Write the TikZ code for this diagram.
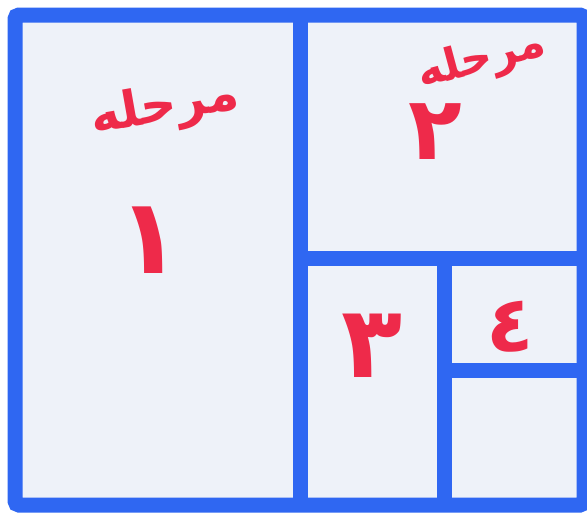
\documentclass[tikz,border=0pt]{standalone}
\usepackage{fontspec}
\TeXXeTstate=1
\newfontfamily\arabicfont[Script=Arabic]{DejaVu Sans}
\definecolor{frameblue}{HTML}{2F67F2}
\definecolor{inkred}{HTML}{EE2A4A}
\definecolor{paper}{HTML}{EEF2F9}
\begin{document}
\begin{tikzpicture}[x=1pt,y=-1pt,
  frameline/.style={draw=frameblue,line width=15pt},
  lbl/.style={text=inkred,inner sep=0pt}]
\useasboundingbox (0,0) rectangle (587,515);
\fill[white] (0,0) rectangle (587,515);
\fill[paper] (15,15) rectangle (587,505);
\draw[frameline,rounded corners=4pt] (15,15) rectangle (584,505);
\draw[frameline] (300,15) -- (300,505);
\draw[frameline] (300,258) -- (584,258);
\draw[frameline] (444,258) -- (444,505);
\draw[frameline] (444,370) -- (584,370);
\node[lbl,rotate=10,font=\arabicfont\bfseries\fontsize{50}{60}\selectfont] (w1) at (165,108) {\beginR مرحله\endR};
\node[lbl,font=\arabicfont\bfseries\fontsize{105}{120}\selectfont] (n1) at (150,240) {\beginR ١\endR};
\node[lbl,rotate=15,font=\arabicfont\bfseries\fontsize{44}{52}\selectfont] (w2) at (482,60) {\beginR مرحله\endR};
\node[lbl,font=\arabicfont\bfseries\fontsize{88}{100}\selectfont] (n2) at (435,132) {\beginR ٢\endR};
\node[lbl,font=\arabicfont\bfseries\fontsize{100}{120}\selectfont] (n3) at (372,346) {\beginR ٣\endR};
\node[lbl,font=\arabicfont\bfseries\fontsize{78}{90}\selectfont] (n4) at (510,327) {\beginR ٤\endR};
\end{tikzpicture}
\end{document}
